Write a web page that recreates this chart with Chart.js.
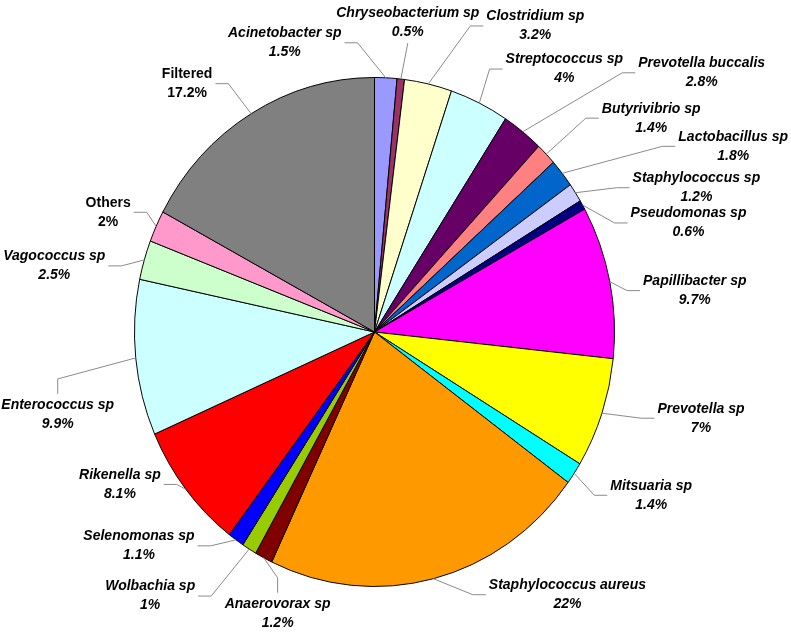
<!DOCTYPE html>
<html>
<head>
<meta charset="utf-8">
<script src="https://cdn.jsdelivr.net/npm/chart.js@4.4.0/dist/chart.umd.min.js"></script>
<style>
html, body { margin: 0; padding: 0; background: #fff; }
#wrap { width: 791px; height: 633px; }
</style>
</head>
<body>
<div id="wrap"><canvas id="pie"></canvas></div>
<script>
// slices, clockwise from 12 o'clock
var taxa = ['Acinetobacter sp', 'Chryseobacterium sp', 'Clostridium sp', 'Streptococcus sp',
    'Prevotella buccalis', 'Butyrivibrio sp', 'Lactobacillus sp', 'Staphylococcus sp',
    'Pseudomonas sp', 'Papillibacter sp', 'Prevotella sp', 'Mitsuaria sp',
    'Staphylococcus aureus', 'Anaerovorax sp', 'Wolbachia sp', 'Selenomonas sp',
    'Rikenella sp', 'Enterococcus sp', 'Vagococcus sp', 'Others', 'Filtered'];
var percents = [1.5, 0.5, 3.2, 4, 2.8, 1.4, 1.8, 1.2, 0.6, 9.7, 7, 1.4, 22, 1.2, 1, 1.1, 8.1, 9.9, 2.5, 2, 17.2];

var colours = ['#9999FF', '#993366', '#FFFFCC', '#CCFFFF', '#660066', '#FF8080', '#0066CC',
    '#CCCCFF', '#000080', '#FF00FF', '#FFFF00', '#00FFFF', '#FF9900', '#800000', '#99CC00',
    '#0000FF', '#FF0000', '#CCFFFF', '#CCFFCC', '#FF99CC', '#808080'];
var italicName = [1, 1, 1, 1, 1, 1, 1, 1, 1, 1, 1, 1, 1, 1, 1, 1, 1, 1, 1, 0, 0];

// label block centre, relative to the slice's outer mid point
var labelOffset = [[-101, -35], [7, -56], [107, -58], [85, -34], [179, -59], [105, -36],
    [171, -27], [121, -5], [106, 18], [85, 9], [99, 5], [77, 22], [134, 16], [14, 56],
    [-99, 47], [-97, 6], [-66, -5], [-78, 57], [-90, 6], [-48, -14], [-64, -30]];
// which side of the label the leader line joins
var leaderSide = ['r', 'b', 'l', 'l', 'l', 'l', 'l', 'l', 'l', 'l', 'l', 'l', 'l', 't',
    'r', 'r', 'r', 't', 'r', 'r', 'r'];

// the original pie is a little narrower than tall
var squash = 240.5 / 255;

function drawLabels(chart) {
    var ctx = chart.ctx;
    var arcs = chart.getDatasetMeta(0).data;
    ctx.save();
    ctx.textAlign = 'center';
    ctx.textBaseline = 'middle';
    arcs.forEach(function(arc, i) {
        var mid = (arc.startAngle + arc.endAngle) / 2;
        var r = arc.outerRadius;
        var ex = arc.x + Math.cos(mid) * r * squash;
        var ey = arc.y + Math.sin(mid) * r;
        var cx = ex + labelOffset[i][0];
        var cy = ey + labelOffset[i][1];
        ctx.font = (italicName[i] ? 'italic ' : '') + 'bold 14px "Liberation Sans", Arial, sans-serif';
        var lines = [taxa[i], percents[i] + '%'];
        var w = Math.max(ctx.measureText(lines[0]).width, ctx.measureText(lines[1]).width);

        var ax, ay, bx, by;
        var side = leaderSide[i];
        if (side === 'l') { ax = cx - w / 2 - 3; ay = cy; bx = ax - 13; by = ay; }
        else if (side === 'r') { ax = cx + w / 2 + 3; ay = cy; bx = ax + 13; by = ay; }
        else if (side === 't') { ax = cx; ay = cy - 21; bx = ax; by = ay - 15; }
        else { ax = cx; ay = cy + 20; bx = ax; by = ay; }

        ctx.strokeStyle = '#8a8a8a';
        ctx.lineWidth = 1;
        ctx.beginPath();
        ctx.moveTo(ex, ey);
        ctx.lineTo(bx, by);
        ctx.lineTo(ax, ay);
        ctx.stroke();

        ctx.fillStyle = '#000';
        ctx.fillText(lines[0], cx, cy - 9.5);
        ctx.fillText(lines[1], cx, cy + 9.5);
    });
    ctx.restore();
}

var ellipsePlugin = {
    id: 'ellipse',
    beforeDatasetsDraw: function(chart) {
        var arc = chart.getDatasetMeta(0).data[0];
        var ctx = chart.ctx;
        ctx.save();
        ctx.translate(arc.x, 0);
        ctx.scale(squash, 1);
        ctx.translate(-arc.x, 0);
    },
    afterDatasetsDraw: function(chart) {
        chart.ctx.restore();
        drawLabels(chart);
    }
};

var ctx = document.getElementById('pie').getContext('2d');
var pieChart = new Chart(ctx, {
    type: 'pie',
    data: {
        labels: taxa,
        datasets: [{
            data: percents,
            backgroundColor: colours,
            borderColor: '#000',
            borderWidth: 1
        }]
    },
    options: {
        responsive: true,
        maintainAspectRatio: false,
        animation: false,
        layout: { padding: { top: 77, bottom: 46, left: 100, right: 142 } },
        plugins: {
            legend: { display: false },
            tooltip: { enabled: false }
        }
    },
    plugins: [ellipsePlugin]
});
</script>
</body>
</html>
